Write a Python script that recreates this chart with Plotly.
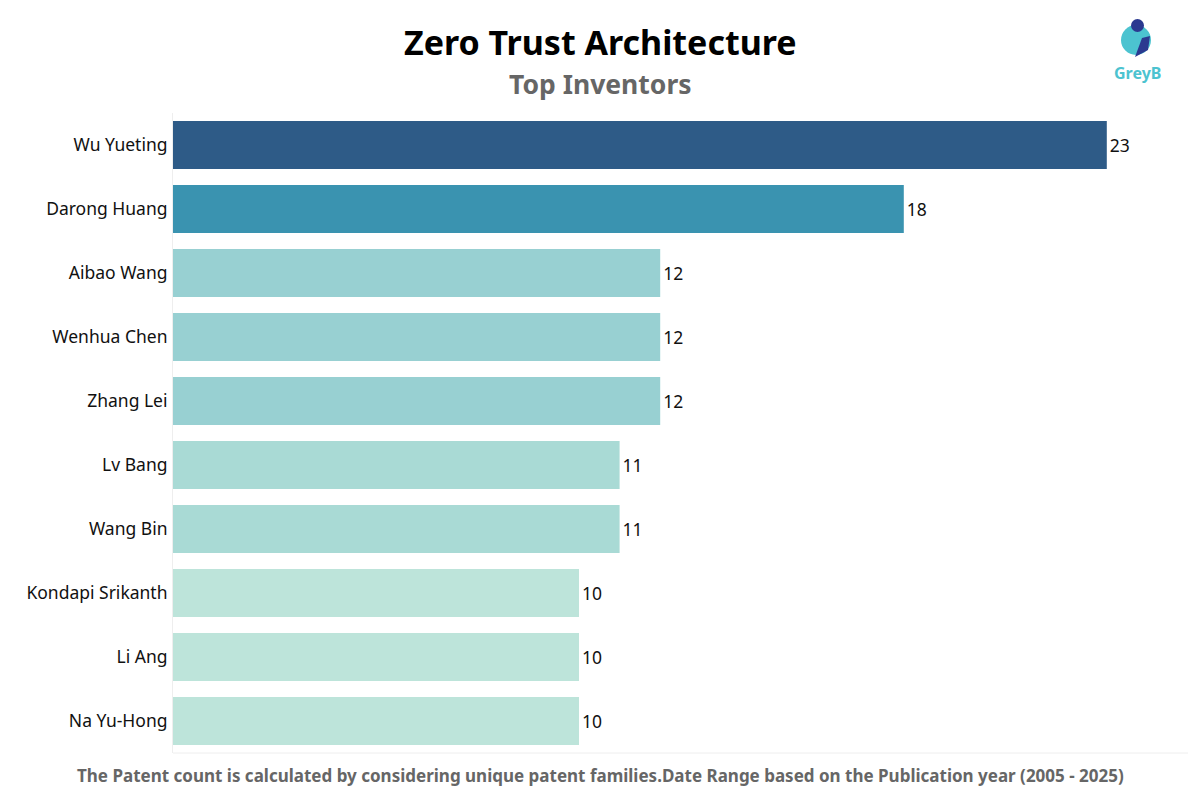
import plotly.graph_objects as go

inventors = ["Wu Yueting", "Darong Huang", "Aibao Wang", "Wenhua Chen", "Zhang Lei",
             "Lv Bang", "Wang Bin", "Kondapi Srikanth", "Li Ang", "Na Yu-Hong"]
counts = [23, 18, 12, 12, 12, 11, 11, 10, 10, 10]
colors = ["#2E5B87", "#3A93B0", "#98D0D2", "#98D0D2", "#98D0D2",
          "#A9DAD5", "#A9DAD5", "#BDE4DA", "#BDE4DA", "#BDE4DA"]

W, H = 1200, 800
OFF = 8  # page body margin
# desired plot area in page pixels
PL, PR, PT, PB = 173, 1188, 113, 753
ml, mt = PL - OFF, PT - OFF
mr = W - (PR - OFF)
mb = H - (PB - OFF)
pw, ph = W - ml - mr, H - mt - mb

def px(x, y):
    return (x - OFF - ml) / pw, (H - mb - (y - OFF)) / ph

fig = go.Figure(go.Bar(
    x=counts, y=inventors, orientation="h",
    marker=dict(color=colors, line=dict(width=0)),
    width=0.75,
    text=[str(c) for c in counts], textposition="outside",
    textfont=dict(family="Noto Sans", size=17.5, color="#111"),
    cliponaxis=False,
))

def ann(text, x, y, size, color):
    xp, yp = px(x, y)
    return dict(text=text, x=xp, y=yp, xref="paper", yref="paper", xanchor="center",
                yanchor="middle", showarrow=False,
                font=dict(family="Noto Sans", size=size, color=color))

fig.update_layout(
    width=W, height=H,
    margin=dict(l=ml, r=mr, t=mt, b=mb),
    plot_bgcolor="white", paper_bgcolor="white",
    showlegend=False,
    xaxis=dict(range=[0, 25], showgrid=False, showticklabels=False, zeroline=False,
               showline=False, fixedrange=True),
    yaxis=dict(autorange="reversed", showgrid=False, ticks="", ticklabelstandoff=1,
               tickfont=dict(family="Noto Sans", size=17.5, color="#111"),
               showline=True, linecolor="#EEEEEE", linewidth=1),
    annotations=[
        ann("<b>Zero Trust Architecture</b>", 600, 42, 34, "#000"),
        ann("<b>Top Inventors</b>", 600, 84, 26.5, "#666"),
        ann("<b>The Patent count is calculated by considering unique patent families.Date Range based on the Publication year (2005 - 2025)</b>",
            600, 775, 17, "#666"),
        ann("<b>GreyB</b>", 1137, 73, 16, "#4CC3D0"),
    ],
)

shapes = []
x0, y0 = px(173, 753)
x1, _ = px(1188, 753)
shapes.append(dict(type="line", xref="paper", yref="paper", x0=x0, y0=y0, x1=x1, y1=y0,
                   line=dict(color="#EEEEEE", width=1)))
# logo
cx0, cy0 = px(1121, 55)
cx1, cy1 = px(1151, 25)
shapes.append(dict(type="circle", xref="paper", yref="paper", x0=cx0, y0=cy0, x1=cx1, y1=cy1,
                   fillcolor="#4CC3D0", line=dict(width=0)))
a0, b0 = px(1131, 32)
a1, b1 = px(1144, 19)
shapes.append(dict(type="circle", xref="paper", yref="paper", x0=a0, y0=b0, x1=a1, y1=b1,
                   fillcolor="#2B3990", line=dict(width=0)))
p1 = px(1142, 38); p2 = px(1150, 36); p3 = px(1148, 50); p4 = px(1135, 57)
path = "M {} {} L {} {} L {} {} L {} {} Z".format(p1[0], p1[1], p2[0], p2[1], p3[0], p3[1], p4[0], p4[1])
shapes.append(dict(type="path", xref="paper", yref="paper", path=path,
                   fillcolor="#2B3990", line=dict(width=0)))
fig.update_layout(shapes=shapes)

fig.write_html("out.html")
